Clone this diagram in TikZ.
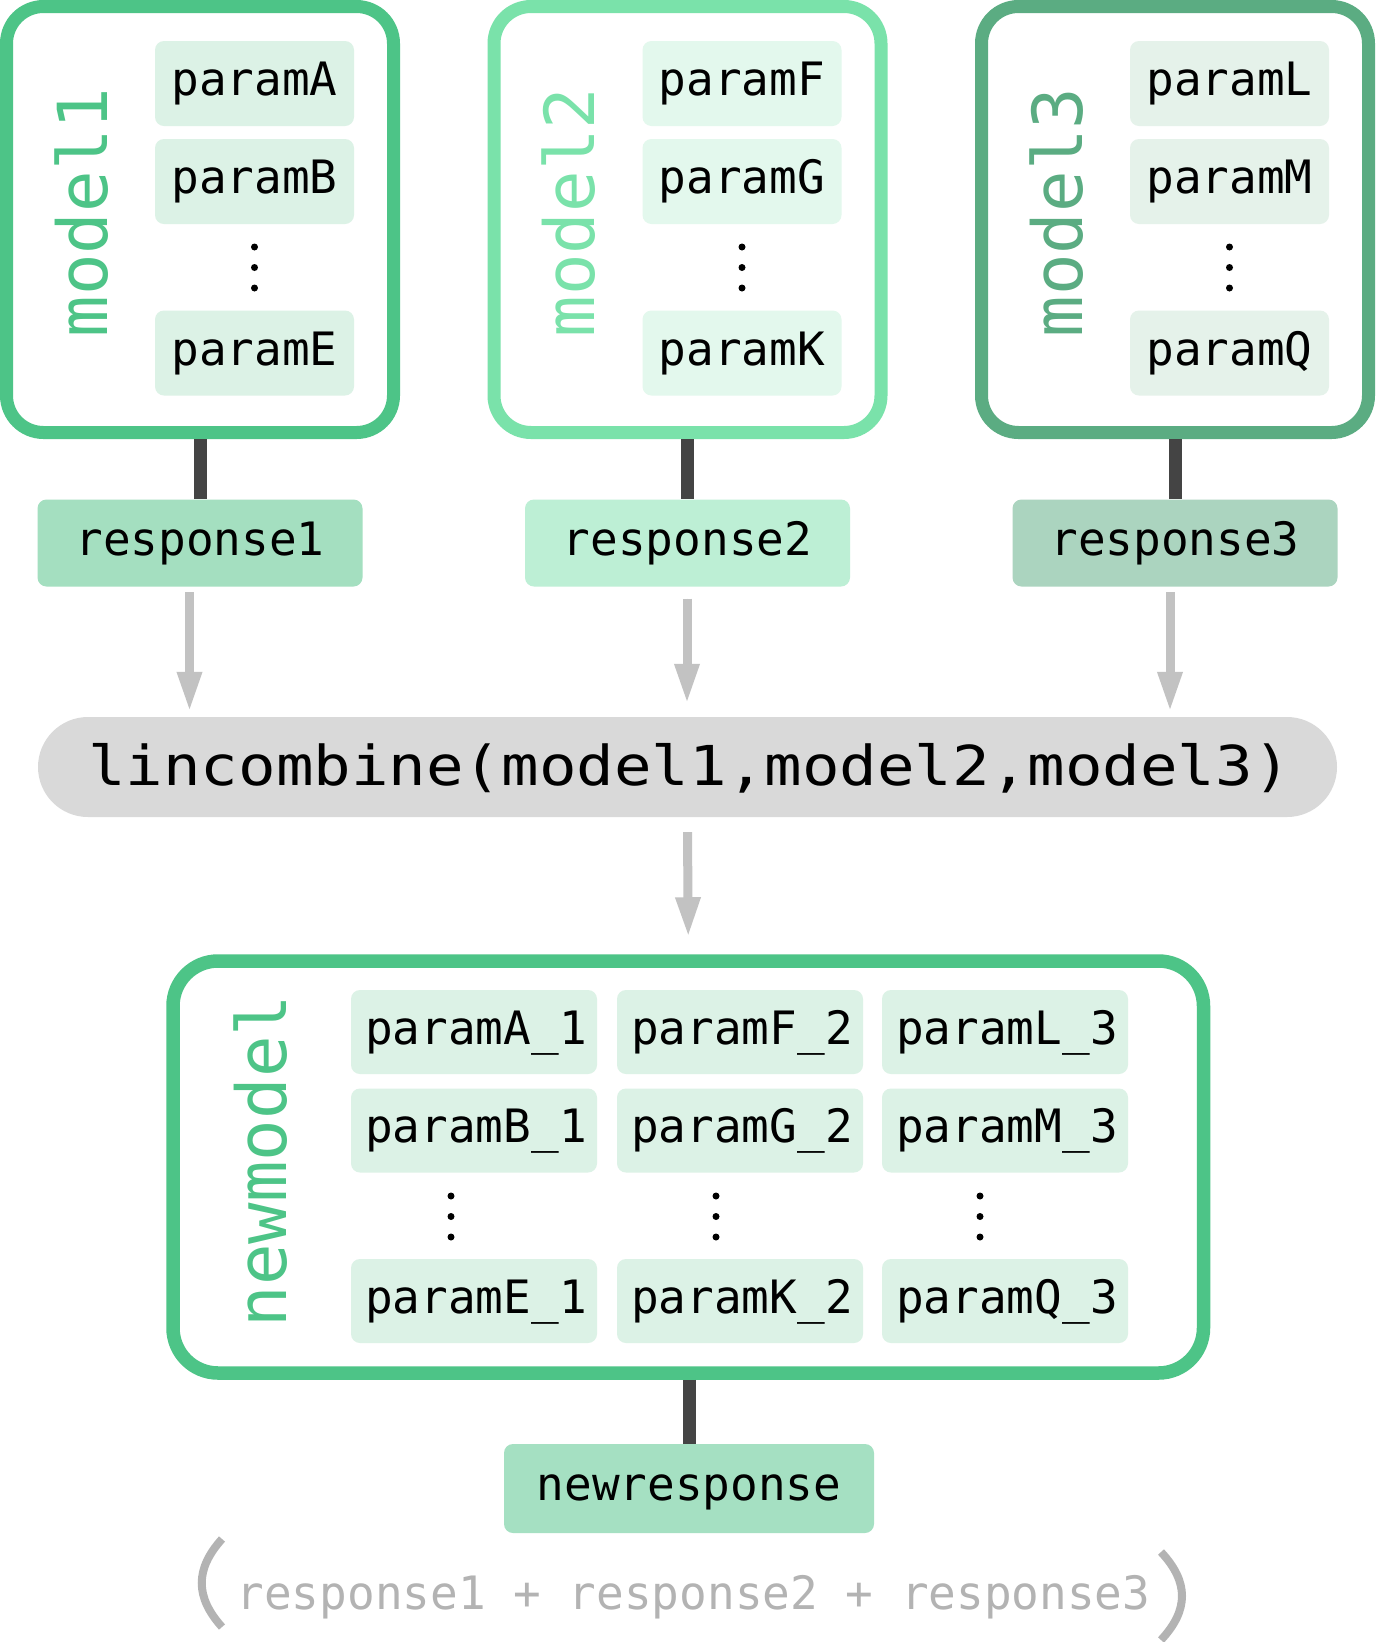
\documentclass[tikz,border=0pt]{standalone}
\usepackage{graphicx}
\usepackage{fontspec}
\newfontfamily\monof{DejaVu Sans Mono}
\usetikzlibrary{arrows.meta}

% palette
\definecolor{gA}{RGB}{77,196,135}
\definecolor{gB}{RGB}{122,226,170}
\definecolor{gC}{RGB}{91,172,130}
\definecolor{pA}{RGB}{220,242,230}
\definecolor{pB}{RGB}{227,248,237}
\definecolor{pC}{RGB}{229,242,234}
\definecolor{rA}{RGB}{164,223,192}
\definecolor{rB}{RGB}{189,239,213}
\definecolor{rC}{RGB}{171,212,191}
\definecolor{nrC}{RGB}{165,224,194}
\definecolor{pillC}{RGB}{217,217,217}
\definecolor{linkC}{RGB}{68,68,68}
\definecolor{arrC}{RGB}{194,194,194}
\definecolor{sumC}{RGB}{179,179,179}

\begin{document}
\begin{tikzpicture}[x=1pt,y=-1pt,
  modelbox/.style={draw, line width=13pt, rounded corners=37pt,
    minimum width=387pt, minimum height=426pt, inner sep=0pt, fill=white},
  parbox/.style={rounded corners=9pt, minimum width=199pt, minimum height=85pt,
    inner sep=0pt, font={\monof\fontsize{46}{46}\selectfont},
    text height=35.4pt, text depth=10.6pt},
  respbox/.style={rounded corners=9pt, minimum width=325pt, minimum height=87pt,
    inner sep=0pt, font={\monof\fontsize{46}{46}\selectfont},
    text height=35.4pt, text depth=10.6pt},
  mlabel/.style={rotate=90, anchor=base, inner sep=0pt,
    font={\monof\fontsize{69}{69}\selectfont}},
  link/.style={draw=linkC, line width=13pt},
  garrow/.style={draw=arrC, line width=9pt,
    -{Triangle[width=23pt,length=40pt]}, fill=arrC},
  paren/.style={draw=sumC, line width=8pt},
]
\fill[white] (0,0) rectangle (1376,1642);
\path[use as bounding box] (0,0) rectangle (1376,1642);

% combining call
\node[fill=pillC, rounded corners=50pt, minimum width=1299pt, minimum height=100pt,
  inner sep=0pt, font={\monof\fontsize{55}{55}\selectfont},
  text height=44pt, text depth=8pt]
  (lin) at (687.5,767) {\hspace*{4pt}\scalebox{1.135}[1]{lincombine(model1,model2,model3)}};

% the three source models
\foreach \k/\L/\col/\pf/\rf/\pa/\pb/\pc/\dx/\ga/\gb in
  {1/0/gA/pA/rA/A/B/E/-10.5/5.5/5,
   2/487.5/gB/pB/rB/F/G/K/-0.5/12/13,
   3/975/gC/pC/rC/L/M/Q/-5/5.5/5}{
  \node[modelbox, draw=\col] (m\k) at (\L+200,219.5) {};
  \node[parbox, fill=\pf] (m\k a) at (\L+254.5,83.5) {param\pa};
  \node[parbox, fill=\pf] (m\k b) at (\L+254.5,181.5) {param\pb};
  \node[parbox, fill=\pf] (m\k c) at (\L+254.5,353) {param\pc};
  \foreach \yy in {247,267.5,288} \fill (\L+254.5,\yy) circle (3.5pt);
  \node[mlabel, text=\col] (m\k l) at (\L+107,212.5) {model\k};
  \node[respbox, fill=\rf] (r\k) at (\L+200,543) {response\k};
  \draw[link] (m\k) -- (r\k);
  \coordinate (s\k) at ([xshift=\dx, yshift=-\ga]r\k.south);
  \draw[garrow, shorten >=\gb] (s\k) -- (s\k |- lin.north);
}

% combined model
\node[modelbox, draw=gA, line width=13.5pt, rounded corners=45pt,
  minimum width=1030.5pt, minimum height=412pt] (nm) at (688.25,1167) {};
\foreach \cx/\s/\a/\b/\c/\dd in {476/1/A/B/E/451, 742/2/F/G/K/716, 1007/3/L/M/Q/980}{
  \node[parbox, fill=pA, minimum width=246pt, minimum height=84pt] (n\s a) at (\cx-2,1032) {\hspace*{4pt}param\a\_\s};
  \node[parbox, fill=pA, minimum width=246pt, minimum height=84pt] (n\s b) at (\cx-2,1130.5) {\hspace*{4pt}param\b\_\s};
  \node[parbox, fill=pA, minimum width=246pt, minimum height=84pt] (n\s c) at (\cx-2,1301) {\hspace*{4pt}param\c\_\s};
  \foreach \yy in {1196,1216.5,1237} \fill (\dd,\yy) circle (3.5pt);
}
\node[mlabel, text=gA] (nml) at (286,1161) {newmodel};

\draw[garrow] ([yshift=-15pt]lin.south) -- ([yshift=17pt]nm.north);

\node[respbox, fill=nrC, minimum width=370pt, minimum height=89pt] (nr) at (689,1488.5) {newresponse};
\draw[link] (nm.south -| nr.north) -- (nr.north);

% sum of the responses, in round brackets
\node[anchor=base, inner sep=0pt, text=sumC, font={\monof\fontsize{46}{46}\selectfont}]
  (sum) at (693.5,1609) {response1 + response2 + response3};
\draw[paren] (222,1539) .. controls (195,1569) and (195,1597) .. (222,1627);
\draw[paren] (1161,1552) .. controls (1189,1582) and (1189,1610) .. (1161,1640);
\end{tikzpicture}
\end{document}
